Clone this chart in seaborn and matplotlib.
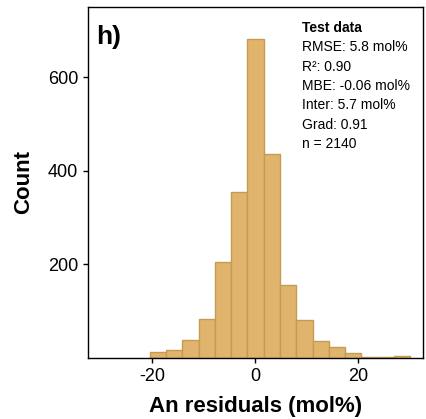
import numpy as np
import pandas as pd
import seaborn as sns
import matplotlib.pyplot as plt

# Histogram of residuals
bin_start = -20.4
bin_width = 3.156
counts = [13, 16, 39, 83, 205, 355, 682, 435, 156, 80, 35, 23, 11, 2, 2, 3]
stats_lines = ["RMSE: 5.8 mol%", "R²: 0.90", "MBE: -0.06 mol%",
               "Inter: 5.7 mol%", "Grad: 0.91", "n = 2140"]

edges = bin_start + bin_width * np.arange(len(counts) + 1)
centers = (edges[:-1] + edges[1:]) / 2
df = pd.DataFrame({'resid': centers, 'n': counts})

sns.set_style("ticks")
plt.rcParams['font.family'] = ['Liberation Sans', 'DejaVu Sans']
plt.rcParams['axes.unicode_minus'] = False
plt.rcParams['text.color'] = 'black'
plt.rcParams['axes.labelcolor'] = 'black'

fig = plt.figure(figsize=(4.27, 4.19), dpi=100)
ax = fig.add_axes([0.206, 0.146, 0.785, 0.837])

sns.histplot(data=df, x='resid', weights='n', bins=len(counts),
             binrange=(edges[0], edges[-1]), ax=ax,
             color='#E0B46C', edgecolor='#C49B52', linewidth=1, alpha=1)

ax.set_xlim(-32.4, 32.6)
ax.set_ylim(0, 750)
ax.set_xticks([-20, 0, 20])
ax.set_yticks([200, 400, 600])
ax.tick_params(labelsize=13, length=3.5, width=1, colors='black')
for s in ax.spines.values():
    s.set_linewidth(1)
    s.set_color('black')

ax.set_xlabel('An residuals (mol%)', fontsize=16, fontweight='bold', labelpad=8)
ax.set_ylabel('Count', fontsize=16, fontweight='bold', labelpad=10)

ax.text(0.025, 0.95, 'h)', transform=ax.transAxes, fontsize=19,
        fontweight='bold', va='top', ha='left')

# stats box, one line at a time
y0, step = 0.940, 0.055
ax.text(0.64, y0, 'Test data', transform=ax.transAxes, fontsize=10,
        fontweight='bold', va='center', ha='left')
for i, line in enumerate(stats_lines):
    ax.text(0.64, y0 - step * (i + 1), line, transform=ax.transAxes,
            fontsize=10, va='center', ha='left')

plt.savefig('out.png', dpi=100)
